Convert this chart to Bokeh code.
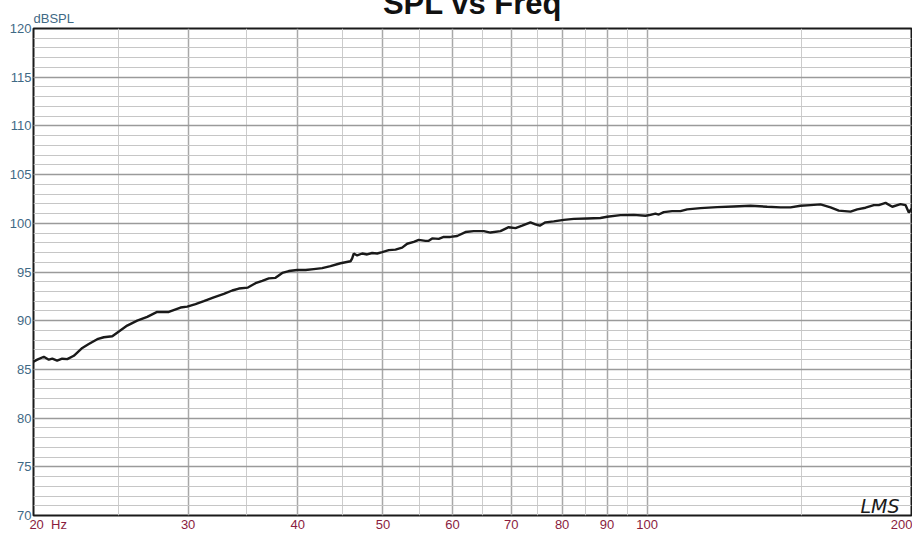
from bokeh.plotting import figure
from bokeh.models import Range1d, FixedTicker, Label, Title
from bokeh.embed import file_html
from bokeh.resources import INLINE

freq = [20.00, 20.20, 20.55, 20.82, 21.01, 21.28, 21.56, 21.85, 22.23, 22.73,
        23.12, 23.64, 24.05, 24.59, 25.02, 25.57, 26.25, 26.95, 27.66, 28.52,
        29.41, 29.93, 30.59, 31.26, 32.09, 32.95, 33.68, 34.27, 35.09, 35.80,
        36.44, 37.07, 37.73, 38.40, 39.07, 39.94, 40.82, 41.71, 42.64, 43.58,
        44.74, 45.93, 46.13, 46.32, 46.74, 47.36, 47.98, 48.61, 49.26, 49.91,
        50.78, 51.68, 52.59, 53.29, 54.22, 54.93, 55.91, 56.39, 56.90, 57.89,
        58.65, 59.69, 60.75, 62.09, 63.46, 65.14, 66.29, 68.06, 69.55, 70.79,
        72.04, 73.63, 74.60, 75.45, 76.58, 78.27, 80.35, 82.48, 85.43, 88.46,
        90.03, 93.23, 96.54, 99.55, 100.86, 102.19, 103.08, 104.44, 106.77, 109.12,
        111.05, 114.99, 120.14, 125.49, 131.12, 136.99, 141.85, 145.62, 149.49, 153.47,
        157.55, 161.73, 165.29, 170.45, 173.47, 177.29, 181.19, 183.59, 186.85, 190.16,
        194.31, 196.88, 198.59, 200.00]
spl = [85.8, 86.0, 86.3, 86.0, 86.1, 85.9, 86.1, 86.05, 86.4, 87.2,
       87.6, 88.1, 88.3, 88.4, 88.9, 89.5, 90.0, 90.4, 90.9, 90.9,
       91.35, 91.45, 91.7, 92.0, 92.4, 92.75, 93.1, 93.3, 93.4, 93.85,
       94.1, 94.35, 94.4, 94.9, 95.1, 95.2, 95.2, 95.3, 95.4, 95.6,
       95.9, 96.1, 96.4, 96.9, 96.7, 96.9, 96.8, 96.95, 96.9, 97.05,
       97.25, 97.3, 97.5, 97.9, 98.1, 98.3, 98.2, 98.2, 98.45, 98.4,
       98.6, 98.6, 98.7, 99.1, 99.2, 99.2, 99.05, 99.2, 99.6, 99.5,
       99.75, 100.1, 99.9, 99.75, 100.1, 100.2, 100.35, 100.45, 100.5, 100.55,
       100.67, 100.84, 100.87, 100.77, 100.87, 101.0, 100.9, 101.15, 101.25, 101.25,
       101.43, 101.56, 101.66, 101.73, 101.8, 101.7, 101.63, 101.63, 101.8, 101.87,
       101.94, 101.63, 101.3, 101.2, 101.43, 101.6, 101.87, 101.87, 102.1, 101.7,
       101.97, 101.87, 101.1, 101.5]

NB = "\u00a0"
x_major = [20, 30, 40, 50, 60, 70, 80, 90, 100, 200]
x_minor = [25, 35, 45, 55, 65, 75, 85, 95, 150]
x_labels = {20: NB * 8 + "20" + NB * 2 + "Hz", 30: "30", 40: "40", 50: "50",
            60: "60", 70: "70", 80: "80", 90: "90", 100: "100", 200: "200"}
y_major = list(range(70, 121, 5))
y_minor = list(range(70, 121, 1))

XCOL = "#8a1c3e"
YCOL = "#3f6985"

p = figure(width=912, height=534, x_axis_type="log",
           x_range=Range1d(20, 200), y_range=Range1d(70, 120),
           output_backend="svg", toolbar_location=None,
           min_border_left=33, min_border_right=1,
           min_border_top=28, min_border_bottom=18)

p.xaxis.ticker = FixedTicker(ticks=x_major, minor_ticks=x_minor)
p.yaxis.ticker = FixedTicker(ticks=y_major, minor_ticks=y_minor)
p.xaxis.major_label_overrides = x_labels

for ax in (p.xaxis, p.yaxis):
    ax.axis_line_color = None
    ax.major_tick_line_color = None
    ax.minor_tick_line_color = None
    ax.major_tick_out = 0
    ax.minor_tick_out = 0
    ax.major_label_text_font = "Liberation Sans"
    ax.major_label_text_font_size = "13px"
p.xaxis.major_label_standoff = 1
p.xaxis.major_label_text_line_height = 1.0
p.yaxis.major_label_standoff = 2
p.xaxis.major_label_text_color = XCOL
p.yaxis.major_label_text_color = YCOL

p.xgrid.grid_line_color = "#a8a8a8"
p.xgrid.grid_line_width = 1.5
p.xgrid.minor_grid_line_color = "#cccccc"
p.xgrid.minor_grid_line_width = 1
p.ygrid.grid_line_color = "#9a9a9a"
p.ygrid.grid_line_width = 1.5
p.ygrid.minor_grid_line_color = "#c6c6c6"
p.ygrid.minor_grid_line_width = 1

p.outline_line_color = "#1a1a1a"
p.outline_line_width = 2

p.line(freq, spl, line_color="#1a1a1a", line_width=2.4)

# unit label above the frame, adjacent to it
p.add_layout(Title(text="dBSPL", align="left", offset=0,
                   text_font="Liberation Sans", text_font_size="13px",
                   text_font_style="normal", text_color=YCOL,
                   vertical_align="bottom", standoff=6), "above")

# main title, partly above the top edge of the canvas
p.title.text = "SPL vs Freq"
p.title.align = "center"
p.title.vertical_align = "top"
p.title.text_font = "Liberation Sans"
p.title.text_font_style = "bold"
p.title.text_font_size = "31px"
p.title.text_color = "#111111"
p.title.standoff = -34

p.add_layout(Label(x=827, y=10, x_units="screen", y_units="screen",
                   text="LMS", text_font="DejaVu Sans",
                   text_font_style="italic", text_font_size="19px",
                   text_color="#1a1a1a", text_baseline="alphabetic"))

open("out.html", "w").write(file_html(p, INLINE))
